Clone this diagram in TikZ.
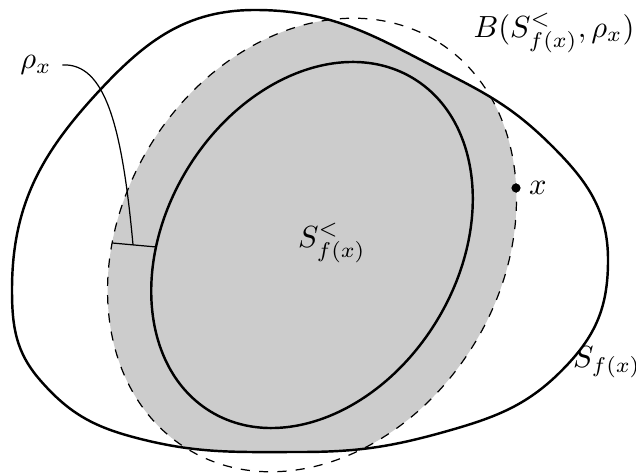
\documentclass[tikz,border=0pt]{standalone}
\usetikzlibrary{positioning}

\begin{document}
\begin{tikzpicture}[scale=1.15,
    boundary/.style={thick},
    ballline/.style={dashed},
    dot/.style={circle,fill,inner sep=0pt,minimum size=3pt}]

    \useasboundingbox (0,0) rectangle (6.36,4.75);

    % Level set and ball around the sublevel set
    \def\outerset{(0.12,1.85) to[out=90,in=227] (1.00,3.85) to[out=47,in=180] (2.55,4.65)
        to[out=0,in=153] (4.50,4.00) to[out=-27,in=135] (5.53,3.28) to[out=-45,in=90] (6.08,2.15)
        to[out=-90,in=47] (5.68,1.11) to[out=-133,in=16] (4.51,0.45) to[out=-164,in=0] (3.00,0.23)
        to[out=180,in=-15] (1.33,0.38) to[out=165,in=-49] (0.40,0.95) to[out=131,in=-90] cycle}
    \def\ballset{[rotate around={58.6:(3.12,2.30)}] (3.12,2.30) ellipse (2.39 and 1.90)}

    % Shaded part
    \begin{scope}
        \clip \outerset;
        \fill[gray!40] \ballset;
    \end{scope}

    % Curves
    \draw[ballline] \ballset;
    \draw[boundary] \outerset;
    \draw[boundary, rotate around={58.6:(3.12,2.30)}] (3.12,2.30) ellipse (1.95 and 1.46);

    % Radius
    \coordinate (rhoout) at (1.12,2.32);
    \coordinate (rhoin) at (1.56,2.28);
    \coordinate (rhomid) at (1.33,2.30);
    \draw (rhoout) -- (rhoin);

    % Labels
    \node (rho) at (0.36,4.10) {$\rho_x$};
    \draw (rho.east) .. controls (1.05,4.12) and (1.22,3.5) .. (rhomid);
    \node (ball) at (5.54,4.42) {$B(S^<_{f(x)},\rho_x)$};
    \node (sub) at (3.32,2.32) {$S^<_{f(x)}$};
    \node (lev) at (6.07,1.13) {$S_{f(x)}$};
    \node[dot] (xpt) at (5.16,2.87) {};
    \node[right=-1pt of xpt] (xlab) {$x$};

\end{tikzpicture}
\end{document}
